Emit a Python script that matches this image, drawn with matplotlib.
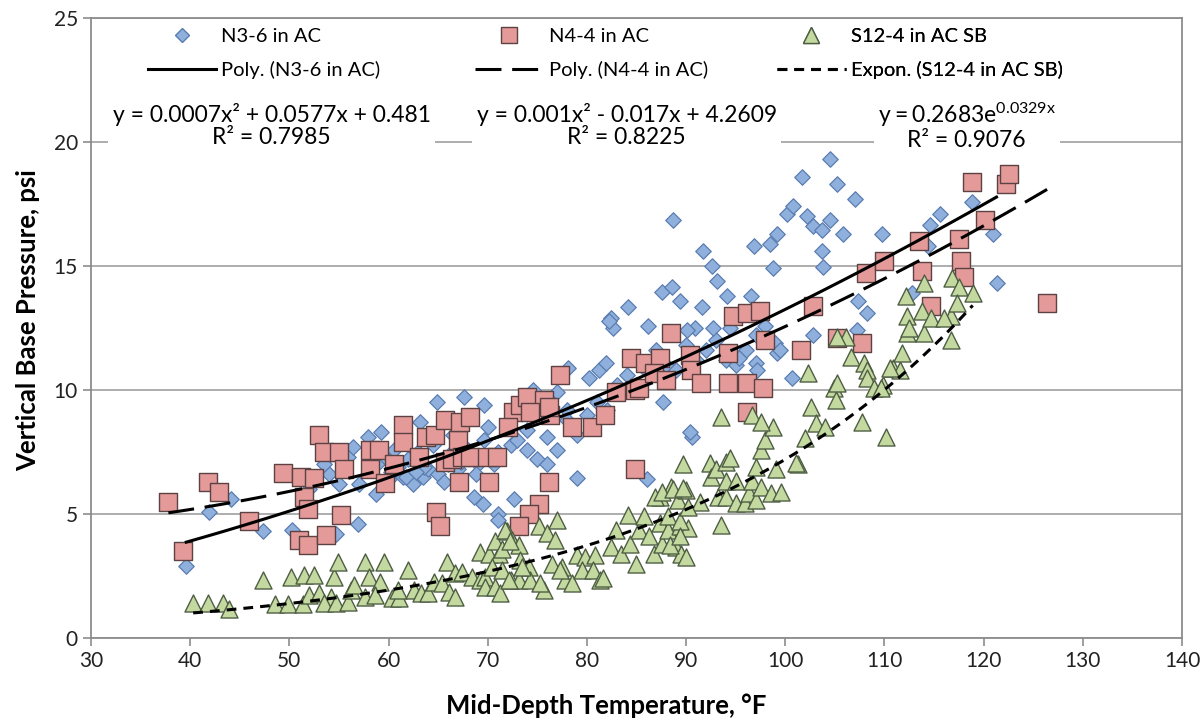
import matplotlib
matplotlib.use("Agg")
import matplotlib.pyplot as plt
import numpy as np

plt.rcParams['font.family'] = ['Lato', 'DejaVu Sans']
plt.rcParams['mathtext.fontset'] = 'custom'
plt.rcParams['mathtext.rm'] = 'Lato'

# N3-6 in AC (blue diamonds)
n36_x = [39.6, 41.9, 44.1, 47.3, 50.3, 54.7, 56.9, 58.7, 68.6, 69.5, 71.0, 72.6, 71.0, 79.0, 86.1,
         90.6, 90.4, 55.9, 56.4, 57.9, 59.2, 63.2, 64.9, 67.6, 69.6, 74.6, 77.0, 78.0, 69.6, 72.3,
         74.0, 76.0, 61.5, 63.5, 57.0, 58.0, 59.0, 60.0, 60.5, 61.0, 62.0, 62.5, 63.0, 64.0, 64.5,
         65.0, 66.0, 66.5, 67.0, 68.0, 69.0, 70.0, 71.0, 72.0, 73.0, 74.0, 75.0, 76.0, 77.0, 78.0,
         79.0, 80.0, 81.0, 82.0, 83.0, 84.0, 85.0, 86.0, 87.0, 88.0, 89.0, 90.0, 91.0, 92.0, 93.0,
         94.0, 95.0, 96.0, 97.0, 98.0, 99.0, 88.7, 91.7, 92.6, 93.1, 87.6, 88.6, 89.4, 94.1, 96.5,
         84.1, 82.4, 82.6, 86.2, 91.6, 90.9, 90.1, 92.7, 94.4, 95.3, 97.0, 97.2, 87.7, 98.8, 99.2,
         96.8, 98.5, 99.2, 100.2, 78.1, 80.2, 81.2, 81.9, 82.2, 101.7, 104.5, 105.2, 107.0, 100.8,
         102.2, 102.8, 104.5, 103.7, 105.8, 109.8, 103.7, 103.8, 114.4, 115.6, 114.6, 118.8, 120.9,
         121.3, 107.3, 108.2, 102.8, 107.2, 99.5, 100.7, 112.8, 52.0, 54.0, 55.0, 53.5,
         60.2, 61.8, 63.6, 65.6, 67.3, 68.8, 70.6, 62.8, 66.2, 59.6]
n36_y = [2.9, 5.1, 5.6, 4.3, 4.35, 4.2, 4.6, 5.8, 5.7, 5.4, 5.0, 5.6, 4.75, 6.45, 6.4,
         8.1, 8.3, 7.3, 7.7, 8.1, 8.3, 8.7, 9.5, 9.7, 9.4, 10.0, 9.9, 9.2, 8.0, 7.8,
         7.6, 8.1, 6.5, 6.5, 6.2, 6.9, 7.1, 6.4, 7.6, 6.9, 7.2, 6.2, 7.5, 6.8, 7.8,
         6.6, 7.0, 8.2, 6.8, 7.6, 7.0, 8.5, 7.5, 8.6, 8.0, 8.4, 7.2, 7.0, 7.6, 8.8,
         8.2, 9.0, 9.5, 9.2, 10.2, 10.6, 10.2, 10.8, 11.6, 11.0, 10.8, 11.8, 11.2, 11.6, 12.0,
         11.2, 11.0, 11.6, 12.2, 12.6, 11.9, 16.85, 15.6, 15.0, 14.4, 13.95, 14.15, 13.6, 13.8, 13.8,
         13.35, 12.9, 12.5, 12.6, 13.35, 12.5, 12.4, 12.5, 12.5, 11.3, 11.1, 10.8, 9.5, 14.9, 11.5,
         15.8, 15.9, 16.3, 17.1, 10.9, 10.5, 10.8, 11.1, 12.8, 18.6, 19.3, 18.3, 17.7, 17.4,
         17.0, 16.6, 16.85, 16.45, 16.3, 16.3, 15.6, 14.95, 15.8, 17.1, 16.65, 17.6, 16.3,
         14.3, 13.6, 13.1, 12.2, 12.4, 11.6, 10.5, 13.9, 6.0, 6.6, 6.2, 7.0,
         6.7, 6.5, 6.9, 6.3, 7.1, 6.6, 7.0, 6.7, 7.4, 7.3]

# N4-4 in AC (red squares)
n44_x = [37.8, 39.3, 41.8, 42.9, 45.9, 49.4, 51.2, 52.5, 51.5, 51.9, 51.0, 51.9, 53.7, 55.2, 53.0,
         53.5, 55.0, 55.5, 58.1, 58.1, 59.0, 59.6, 60.5, 61.5, 61.5, 63.1, 63.8, 64.7, 65.7, 67.0,
         67.2, 68.2, 65.7, 66.4, 67.4, 68.2, 69.9, 70.9, 67.1, 70.1, 64.8, 65.2, 72.5, 73.3, 74.0,
         75.7, 74.3, 76.3, 76.2, 77.3, 72.0, 78.5, 80.5, 81.8, 82.9, 84.8, 85.3, 76.2, 75.2, 74.2,
         73.2, 84.8, 84.4, 85.9, 87.4, 86.8, 88.0, 88.5, 90.4, 90.5, 91.5, 94.2, 96.1, 97.8, 94.2,
         94.7, 96.1, 97.5, 98.0, 96.1, 101.6, 102.8, 105.2, 107.7, 108.1, 110.0, 113.5, 113.8, 114.7,
         117.5, 117.7, 118.0, 118.8, 120.1, 122.3, 122.6, 126.4]
n44_y = [5.5, 3.5, 6.3, 5.9, 4.7, 6.65, 6.5, 6.45, 5.7, 5.2, 3.95, 3.75, 4.15, 4.95, 8.2,
         7.5, 7.5, 6.8, 6.8, 7.6, 7.6, 6.25, 7.0, 8.6, 7.9, 7.3, 8.1, 8.2, 8.8, 8.0,
         8.7, 8.9, 7.1, 7.2, 7.3, 7.3, 7.3, 7.3, 6.3, 6.3, 5.1, 4.5, 9.1, 9.4, 9.7,
         9.6, 9.1, 9.0, 9.3, 10.6, 8.5, 8.5, 8.5, 9.0, 9.9, 10.0, 10.1, 6.3, 5.4, 5.0,
         4.5, 6.8, 11.3, 11.1, 11.3, 10.7, 10.4, 12.3, 11.4, 10.8, 10.3, 10.3, 10.3, 10.1, 11.5,
         13.0, 13.1, 13.2, 12.0, 9.1, 11.6, 13.4, 12.1, 11.9, 14.7, 15.2, 16.0, 14.8, 13.4,
         16.1, 15.2, 14.55, 18.4, 16.85, 18.3, 18.7, 13.5]

# S12-4 in AC SB (green triangles)
s124_x = [40.3, 41.8, 43.3, 43.9, 47.3, 48.6, 49.9, 51.4, 50.2, 51.5, 52.5, 52.0, 53.0, 54.2, 54.5,
          54.9, 53.5, 54.7, 55.9, 56.2, 56.5, 57.6, 59.5, 58.0, 59.1, 57.6, 58.6, 60.3, 61.1, 61.0,
          62.0, 62.6, 63.3, 64.0, 64.6, 65.4, 65.9, 66.1, 66.7, 66.7, 67.4, 68.4, 69.2, 69.7, 69.2,
          70.1, 71.1, 69.7, 70.7, 70.4, 71.4, 71.2, 71.9, 72.4, 73.2, 72.3, 73.3, 74.2, 73.2, 74.3,
          75.2, 76.0, 76.8, 75.7, 76.5, 77.5, 77.0, 77.8, 78.5, 79.0, 79.8, 80.8, 79.5, 80.6, 81.3,
          81.6, 82.4, 83.4, 84.3, 82.9, 84.1, 85.3, 85.8, 86.3, 84.9, 86.8, 87.6, 87.4, 87.4, 88.2,
          88.5, 89.0, 89.5, 89.2, 90.0, 89.4, 90.2, 89.7, 91.4, 92.4, 92.5, 93.0, 93.5, 93.2, 94.0,
          94.0, 94.4, 94.0, 95.0, 95.0, 95.9, 96.3, 97.1, 96.6, 97.0, 97.6, 98.6, 97.6, 98.0, 98.8,
          99.1, 96.6, 93.5, 97.6, 101.3, 102.0, 102.6, 103.1, 104.0, 102.3, 104.9, 105.1, 106.1,
          106.6, 107.7, 107.9, 108.2, 108.2, 108.9, 109.9, 110.2, 110.9, 111.6, 111.8, 112.3, 114.0,
          114.0, 116.8, 117.5, 118.9, 112.2, 113.8, 112.3, 114.7, 116.7, 112.5, 116.0, 117.3, 116.7,
          105.2, 110.6, 109.7, 70.7, 71.7, 71.4, 72.2, 73.5, 72.1, 75.3, 77.3, 88.2, 88.4, 89.4,
          89.4, 90.0, 86.9, 87.6, 88.7, 89.7, 90.2, 101.1, 105.2, 99.6]
s124_y = [1.4, 1.4, 1.4, 1.15, 2.35, 1.35, 1.35, 1.35, 2.45, 2.55, 2.55, 1.75, 1.8, 1.65, 2.45,
          3.05, 1.4, 1.4, 1.45, 1.95, 2.15, 3.05, 3.05, 2.45, 2.25, 1.65, 1.75, 1.6, 1.6, 1.95,
          2.75, 1.95, 1.8, 1.8, 2.25, 2.2, 3.05, 1.85, 1.65, 2.6, 2.65, 2.45, 2.35, 2.45, 3.45,
          3.4, 3.4, 2.05, 2.05, 2.85, 2.75, 1.8, 4.3, 3.95, 3.75, 2.35, 3.15, 2.85, 2.35, 2.35,
          4.5, 4.25, 3.95, 1.95, 3.0, 2.85, 4.75, 2.35, 2.2, 3.35, 3.25, 3.35, 2.75, 2.75, 2.35,
          2.4, 3.65, 3.4, 3.8, 4.35, 4.95, 4.35, 4.9, 4.1, 3.0, 3.4, 3.8, 5.7, 4.65, 4.35,
          6.1, 3.65, 3.4, 5.55, 5.95, 4.5, 4.45, 7.0, 5.5, 7.05, 6.5, 6.8, 4.55, 5.7, 5.7,
          7.1, 7.25, 6.35, 6.35, 5.45, 5.45, 5.85, 5.55, 6.35, 6.9, 6.1, 5.85, 7.6, 8.0, 8.5,
          6.8, 9.0, 8.9, 8.7, 7.0, 8.05, 9.3, 8.65, 8.5, 10.7, 10.1, 9.6, 12.15,
          11.35, 8.7, 11.1, 10.8, 10.5, 10.1, 10.2, 8.1, 10.9, 10.8, 11.5, 12.3, 12.3,
          14.3, 14.5, 14.15, 13.9, 13.8, 13.2, 13.0, 12.9, 13.0, 12.5, 12.9, 13.5, 12.0,
          12.15, 10.9, 10.1, 3.9, 4.35, 3.6, 3.9, 2.85, 2.35, 2.2, 2.75, 4.9, 3.75, 4.7,
          4.1, 3.25, 5.7, 5.9, 6.0, 6.05, 5.3, 7.05, 10.3, 5.9]

# trendline coefficients as shown in the chart
poly_n36 = [0.0007, 0.0577, 0.481]
poly_n44 = [0.001, -0.017, 4.2609]
expon_s124 = [0.2683, 0.0329]

blue_fc, blue_ec = '#8FB0DC', '#5A7DB0'
red_fc, red_ec = '#E39A98', '#5C4242'
green_fc, green_ec = '#C4D9A0', '#4E5E44'

fig = plt.figure(figsize=(12.04, 7.23), dpi=100)
ax = fig.add_axes([0.0756, 0.1176, 0.9061, 0.8575])

ax.scatter(n36_x, n36_y, marker='D', s=62, facecolor=blue_fc, edgecolor=blue_ec,
           linewidth=0.9, zorder=3)
ax.scatter(n44_x, n44_y, marker='s', s=150, facecolor=red_fc, edgecolor=red_ec,
           linewidth=1.0, zorder=4)
ax.scatter(s124_x, s124_y, marker='^', s=150, facecolor=green_fc, edgecolor=green_ec,
           linewidth=1.0, zorder=5)

xa = np.linspace(min(n36_x), max(n36_x), 100)
la, = ax.plot(xa, np.polyval(poly_n36, xa), color='black', lw=2.2, zorder=6)
xb = np.linspace(min(n44_x), max(n44_x), 100)
lb, = ax.plot(xb, np.polyval(poly_n44, xb), color='black', lw=2.2, dashes=(8.5, 3.5), zorder=6)
xc = np.linspace(min(s124_x), max(s124_x), 100)
lc, = ax.plot(xc, expon_s124[0] * np.exp(expon_s124[1] * xc), color='black', lw=2.2,
              dashes=(3.2, 2.3), zorder=6)

ax.set_xlim(30, 140)
ax.set_ylim(0, 25)
ax.set_xticks(range(30, 141, 10))
ax.set_yticks(range(0, 26, 5))
ax.yaxis.grid(True, color='#A0A0A0', lw=1.2)
ax.set_axisbelow(True)
for sp in ax.spines.values():
    sp.set_color('#8C8C8C')
    sp.set_linewidth(1.3)
ax.tick_params(axis='both', colors='#8C8C8C', length=6, width=1.2, labelsize=15,
               labelcolor='#222222')
ax.set_xlabel('Mid-Depth Temperature, °F', fontsize=18.5, fontweight='bold')
ax.set_ylabel('Vertical Base Pressure, psi', fontsize=18.5, fontweight='bold')
ax.xaxis.set_label_coords(0.472, -0.089)
ax.yaxis.set_label_coords(-0.047, 0.512)

# one legend per column, placed like the original
cols = [
    (0.052, plt.Line2D([], [], marker='D', ls='', ms=7.5, mfc=blue_fc, mec=blue_ec),
     'N3-6 in AC', la, 'Poly. (N3-6 in AC)'),
    (0.352, plt.Line2D([], [], marker='s', ls='', ms=11, mfc=red_fc, mec=red_ec),
     'N4-4 in AC', lb, 'Poly. (N4-4 in AC)'),
    (0.629, plt.Line2D([], [], marker='^', ls='', ms=11, mfc=green_fc, mec=green_ec),
     'S12-4 in AC SB', lc, 'Expon. (S12-4 in AC SB)'),
]
for xpos, mh, ml, lh, ll in cols:
    lg = ax.legend([mh, lh], [ml, ll], loc='upper left', bbox_to_anchor=(xpos, 0.984),
                   frameon=False, fontsize=14.5, handlelength=3.4, handletextpad=0.25,
                   labelspacing=0.8, borderpad=0, borderaxespad=0)
    ax.add_artist(lg)

box = dict(facecolor='white', edgecolor='none', pad=3)
eq_kw = dict(ha='center', va='center', fontsize=16.5, linespacing=1.05, bbox=box, zorder=7)
ax.text(48.2, 20.65, 'y = 0.0007x² + 0.0577x + 0.481\nR² = 0.7985', **eq_kw)
ax.text(84.0, 20.65, 'y = 0.001x² - 0.017x + 4.2609\nR² = 0.8225', **eq_kw)
ax.text(118.3, 20.65, '$\\mathregular{y = 0.2683e^{0.0329x}}$\nR² = 0.9076', **eq_kw)

fig.savefig('out.png', dpi=100)
